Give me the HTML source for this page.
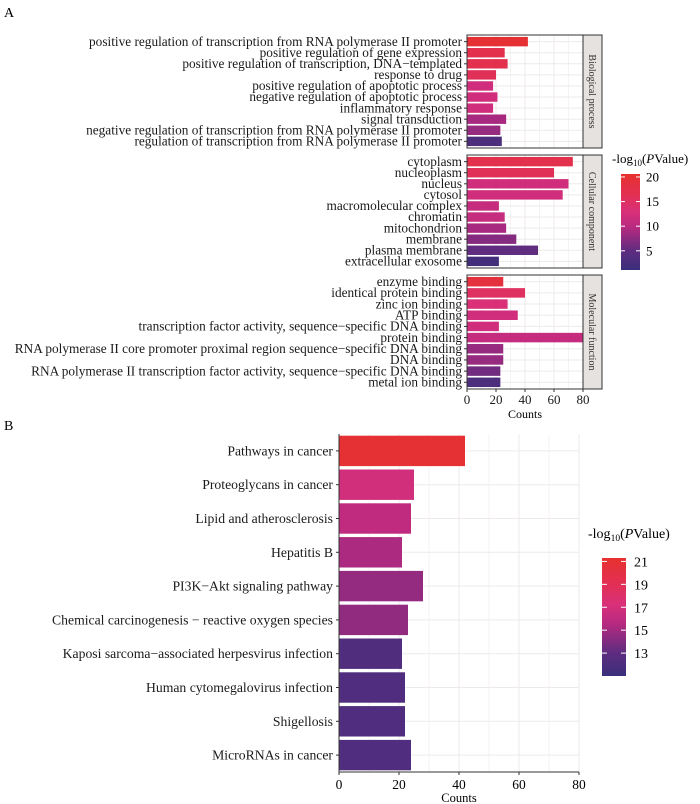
<!DOCTYPE html>
<html><head><meta charset="utf-8"><style>
html,body{margin:0;padding:0;background:#fff;}
svg{display:block;font-family:"Liberation Serif",serif;}
</style></head><body>
<svg id="c" width="700" height="804" viewBox="0 0 700 804" xmlns="http://www.w3.org/2000/svg">
<defs>
<linearGradient id="gA" x1="0" y1="1" x2="0" y2="0">
<stop offset="0" stop-color="#3a2f7b"/><stop offset="0.2" stop-color="#5f2c80"/><stop offset="0.45" stop-color="#b82a80"/><stop offset="0.6" stop-color="#d9307a"/><stop offset="0.8" stop-color="#e33050"/><stop offset="1" stop-color="#e7312f"/>
</linearGradient>
</defs>
<text x="4" y="17" font-size="14">A</text>
<text x="4" y="430" font-size="14">B</text>
<g id="ga"></g><g id="gb"></g>
</svg>
<script>
// Panel A data
const bpTerms = ["positive regulation of transcription from RNA polymerase II promoter","positive regulation of gene expression","positive regulation of transcription, DNA\u2212templated","response to drug","positive regulation of apoptotic process","negative regulation of apoptotic process","inflammatory response","signal transduction","negative regulation of transcription from RNA polymerase II promoter","regulation of transcription from RNA polymerase II promoter"];
const bpCounts = [42,26,28,20,18,21,18,27,23,24];
const bpLogP = [20,17,17,16,12,12,12,9,8,3];
const ccTerms = ["cytoplasm","nucleoplasm","nucleus","cytosol","macromolecular complex","chromatin","mitochondrion","membrane","plasma membrane","extracellular exosome"];
const ccCounts = [73,60,70,66,22,26,27,34,49,22];
const ccLogP = [17,16,12,12,11,11,9,7,5,2];
const mfTerms = ["enzyme binding","identical protein binding","zinc ion binding","ATP binding","transcription factor activity, sequence\u2212specific DNA binding","protein binding","RNA polymerase II core promoter proximal region sequence\u2212specific DNA binding","DNA binding","RNA polymerase II transcription factor activity, sequence\u2212specific DNA binding","metal ion binding"];
const mfCounts = [25,40,28,35,22,80,25,25,23,23];
const mfLogP = [19,15,13,12,12,11,8,8,6,3];
const facetNames = ["Biological process","Cellular component","Molecular function"];
const aTicks = [0,20,40,60,80];
const aLegendTicks = [5,10,15,20];
// Panel B data
const keggTerms = ["Pathways in cancer","Proteoglycans in cancer","Lipid and atherosclerosis","Hepatitis B","PI3K\u2212Akt signaling pathway","Chemical carcinogenesis \u2212 reactive oxygen species","Kaposi sarcoma\u2212associated herpesvirus infection","Human cytomegalovirus infection","Shigellosis","MicroRNAs in cancer"];
const keggCounts = [42,25,24,21,28,23,21,22,22,24];
const keggLogP = [21,16.8,16,15.3,14.6,14.5,12.3,12.2,12.2,12.2];
const bTicks = [0,20,40,60,80];
const bLegendTicks = [13,15,17,19,21];

const NS="http://www.w3.org/2000/svg";
function mk(parent,tag,attrs,txt){const e=document.createElementNS(NS,tag);for(const k in attrs)e.setAttribute(k,attrs[k]);if(txt!==undefined)e.textContent=txt;parent.appendChild(e);return e;}
const stops=[[0,[0x3a,0x2f,0x7b]],[0.2,[0x5f,0x2c,0x80]],[0.45,[0xb8,0x2a,0x80]],[0.6,[0xd9,0x30,0x7a]],[0.8,[0xe3,0x30,0x50]],[1,[0xe7,0x31,0x2f]]];
function col(t){t=Math.max(0,Math.min(1,t));for(let i=1;i<stops.length;i++){if(t<=stops[i][0]){const a=stops[i-1],b=stops[i];const f=(t-a[0])/(b[0]-a[0]);const c=a[1].map((v,j)=>Math.round(v+(b[1][j]-v)*f));return `rgb(${c[0]},${c[1]},${c[2]})`;}}return "rgb(231,49,47)";}

// ---- Panel A
const ga=document.getElementById('ga');
const ax0=467, ax1=583, aMax=80;
const xA=v=>ax0+(v/aMax)*(ax1-ax0);
const aLo=1.1, aHi=20.6;
const cA=v=>col((v-aLo)/(aHi-aLo));
const panels=[[35,148,bpTerms,bpCounts,bpLogP],[155,268,ccTerms,ccCounts,ccLogP],[275,389,mfTerms,mfCounts,mfLogP]];
panels.forEach((p,pi)=>{
  const [top,bot,terms,counts,lp]=p;
  const g=mk(ga,'g',{});
  
  
  mk(g,'rect',{x:ax0,y:top,width:ax1-ax0,height:bot-top,fill:'#fff'});
  for(let v=10;v<aMax;v+=10){mk(g,'line',{x1:xA(v),x2:xA(v),y1:top,y2:bot,stroke:'#eeeaea','stroke-width':v%20?0.6:1});}
  const n=terms.length, step=(bot-top)/(n+0.2), bh=step*0.85;
  terms.forEach((t,i)=>{
    const cy=top+step*(i+0.6);
    mk(g,'line',{x1:ax0,x2:ax1,y1:cy,y2:cy,stroke:'#eeeaea','stroke-width':1});
    const r=mk(g,'rect',{x:ax0,y:cy-bh/2,width:xA(counts[i])-ax0,height:bh,fill:cA(lp[i])});
    
    
    mk(g,'line',{x1:ax0-3,x2:ax0,y1:cy,y2:cy,stroke:'#333','stroke-width':1});
    const l=mk(g,'text',{x:ax0-5,y:cy+4.2,'font-size':13.3,'text-anchor':'end',fill:'#1a1a1a'},t);
    
    
  });
  mk(g,'rect',{x:ax0,y:top,width:ax1-ax0,height:bot-top,fill:'none',stroke:'#333','stroke-width':1});
  const s=mk(g,'rect',{x:ax1,y:top,width:19,height:bot-top,fill:'#e6e2df',stroke:'#333','stroke-width':1});
  
  
  const cy=(top+bot)/2;
  const st=mk(g,'text',{x:ax1+6,y:cy,'font-size':10,'text-anchor':'middle',fill:'#333',transform:`rotate(90 ${ax1+6} ${cy})`},facetNames[pi]);
  
  
});
aTicks.forEach(v=>{
  mk(ga,'line',{x1:xA(v),x2:xA(v),y1:389,y2:392,stroke:'#333'});
  const t=mk(ga,'text',{x:xA(v),y:404,'font-size':13,'text-anchor':'middle',fill:'#1a1a1a'},v);
  
  
});
let at=mk(ga,'text',{x:525,y:418,'font-size':12,'text-anchor':'middle'},'Counts');


let lt=mk(ga,'text',{x:612,y:163,'font-size':13});


lt.innerHTML='-log<tspan font-size="9" dy="3">10</tspan><tspan dy="-3">(</tspan><tspan font-style="italic">P</tspan>Value)';
let lb=mk(ga,'rect',{x:621,y:174,width:19,height:96,fill:'url(#gA)'});


aLegendTicks.forEach(v=>{
  const y=270-(v-aLo)/(aHi-aLo)*96;
  mk(ga,'line',{x1:621,x2:625,y1:y,y2:y,stroke:'#fff'});mk(ga,'line',{x1:636,x2:640,y1:y,y2:y,stroke:'#fff'});
  const t=mk(ga,'text',{x:646,y:y+4.5,'font-size':13},v);
  
  
});

// ---- Panel B
const gb=document.getElementById('gb');
const bx0=339,bx1=579,bTop=434,bBot=772,bMax=80;
const xB=v=>bx0+(v/bMax)*(bx1-bx0);
const bLo=11,bHi=21.3;
const cB=v=>col((v-bLo)/(bHi-bLo));
for(let v=10;v<=bMax;v+=10){mk(gb,'line',{x1:xB(v),x2:xB(v),y1:bTop,y2:bBot,stroke:'#eeeaea','stroke-width':v%20?0.6:1});}
const bStep=(bBot-bTop)/keggTerms.length;
keggTerms.forEach((t,i)=>{
  const cy=bTop+bStep*(i+0.5);
  mk(gb,'line',{x1:bx0,x2:bx1,y1:cy,y2:cy,stroke:'#eeeaea'});
  const r=mk(gb,'rect',{x:bx0,y:cy-bStep*0.45,width:xB(keggCounts[i])-bx0,height:bStep*0.9,fill:cB(keggLogP[i])});
  
  
  mk(gb,'line',{x1:bx0-3,x2:bx0,y1:cy,y2:cy,stroke:'#333'});
  const l=mk(gb,'text',{x:bx0-6,y:cy+4.5,'font-size':13.7,'text-anchor':'end',fill:'#1a1a1a'},t);
  
  
});
mk(gb,'line',{x1:bx0,x2:bx0,y1:bTop,y2:bBot,stroke:'#333'});
mk(gb,'line',{x1:bx0,x2:bx1,y1:bBot,y2:bBot,stroke:'#333'});
bTicks.forEach(v=>{
  mk(gb,'line',{x1:xB(v),x2:xB(v),y1:bBot,y2:bBot+3,stroke:'#333'});
  const t=mk(gb,'text',{x:xB(v),y:bBot+17,'font-size':13.5,'text-anchor':'middle'},v);
  
  
});
at=mk(gb,'text',{x:459,y:802,'font-size':12.5,'text-anchor':'middle'},'Counts');


lt=mk(gb,'text',{x:588,y:538,'font-size':14});


lt.innerHTML='-log<tspan font-size="9.5" dy="3">10</tspan><tspan dy="-3">(</tspan><tspan font-style="italic">P</tspan>Value)';
lb=mk(gb,'rect',{x:602,y:558,width:24,height:118,fill:'url(#gA)'});


bLegendTicks.forEach(v=>{
  const y=676-(v-bLo)/(bHi-bLo)*118;
  mk(gb,'line',{x1:602,x2:607,y1:y,y2:y,stroke:'#fff'});mk(gb,'line',{x1:621,x2:626,y1:y,y2:y,stroke:'#fff'});
  const t=mk(gb,'text',{x:634,y:y+5,'font-size':14},v);
  
  
});
</script>
</body></html>
